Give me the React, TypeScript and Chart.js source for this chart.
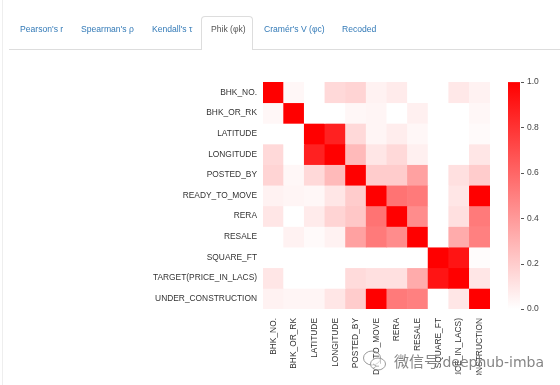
import React, { useEffect, useRef } from "react";
import { Chart, registerables } from "chart.js";
Chart.register(...registerables);

const variables = [
  "BHK_NO.",
  "BHK_OR_RK",
  "LATITUDE",
  "LONGITUDE",
  "POSTED_BY",
  "READY_TO_MOVE",
  "RERA",
  "RESALE",
  "SQUARE_FT",
  "TARGET(PRICE_IN_LACS)",
  "UNDER_CONSTRUCTION",
];

const rowBhkNo = [1, 0.03, 0, 0.15, 0.17, 0.05, 0.08, 0, 0, 0.09, 0.05];
const rowBhkOrRk = [0.03, 1, 0, 0, 0.03, 0.04, 0, 0.06, 0, 0, 0.03];
const rowLatitude = [0, 0, 1, 0.87, 0.15, 0.04, 0.07, 0.03, 0, 0, 0.02];
const rowLongitude = [0.15, 0, 0.87, 1, 0.27, 0.1, 0.15, 0.06, 0, 0, 0.1];
const rowPostedBy = [0.17, 0.03, 0.15, 0.27, 1, 0.2, 0.2, 0.37, 0, 0.12, 0.2];
const rowReadyToMove = [0.05, 0.04, 0.03, 0.1, 0.2, 1, 0.55, 0.52, 0, 0.1, 1];
const rowRera = [0.1, 0, 0.08, 0.17, 0.22, 0.55, 1, 0.45, 0, 0.12, 0.52];
const rowResale = [0, 0.05, 0.02, 0.05, 0.37, 0.52, 0.45, 1, 0, 0.33, 0.5];
const rowSquareFt = [0, 0, 0, 0, 0, 0, 0, 0, 1, 0.92, 0.01];
const rowTarget = [0.1, 0, 0, 0, 0.14, 0.12, 0.12, 0.33, 0.92, 1, 0.1];
const rowUnderConstruction = [0.05, 0.04, 0.04, 0.1, 0.2, 1, 0.52, 0.5, 0, 0.1, 1];

const matrix = [
  rowBhkNo,
  rowBhkOrRk,
  rowLatitude,
  rowLongitude,
  rowPostedBy,
  rowReadyToMove,
  rowRera,
  rowResale,
  rowSquareFt,
  rowTarget,
  rowUnderConstruction,
];

const colorbarTicks = [0, 0.2, 0.4, 0.6, 0.8, 1.0];

const tabNames = ["Pearson's r", "Spearman's ρ", "Kendall's τ", "Phik (φk)", "Cramér's V (φc)", "Recoded"];
const activeTab = "Phik (φk)";
const tabLefts = [20, 81, 152, 211, 264, 342];

const FONT = "'Liberation Sans', Arial, Helvetica, sans-serif";

function heat(v: number): string {
  const c = Math.round(255 * (1 - Math.max(0, Math.min(1, v))));
  return `rgb(255,${c},${c})`;
}

const colorbarPlugin = {
  id: "colorbarPlugin",
  afterDraw(chart: any) {
    const s = chart.scales.cb;
    const ctx = chart.ctx as CanvasRenderingContext2D;
    const top = s.getPixelForValue(1);
    const bottom = s.getPixelForValue(0);
    const x0 = s.left + 18;
    const w = 12;
    const g = ctx.createLinearGradient(0, bottom, 0, top);
    g.addColorStop(0, heat(0));
    g.addColorStop(1, heat(1));
    ctx.save();
    ctx.fillStyle = g;
    ctx.fillRect(x0, top, w, bottom - top);
    ctx.strokeStyle = "#555";
    ctx.lineWidth = 1;
    for (const t of colorbarTicks) {
      const y = Math.round(s.getPixelForValue(t)) + 0.5;
      ctx.beginPath();
      ctx.moveTo(x0 + w + 1, y);
      ctx.lineTo(x0 + w + 4, y);
      ctx.stroke();
    }
    ctx.restore();
  },
};

export default function App() {
  const ref = useRef<HTMLCanvasElement | null>(null);

  useEffect(() => {
    if (!ref.current) return;
    const datasets = matrix.map((row, i) => ({
      label: variables[i],
      data: row.map(() => 1),
      backgroundColor: row.map((v) => heat(v)),
      borderWidth: 0,
      barPercentage: 1,
      categoryPercentage: 1,
      xAxisID: "x",
      yAxisID: "y",
    }));
    const chart = new Chart(ref.current, {
      type: "bar",
      data: { labels: variables, datasets },
      plugins: [colorbarPlugin],
      options: {
        animation: false,
        responsive: false,
        maintainAspectRatio: false,
        layout: { padding: { top: 24, left: 0, right: 0, bottom: 0 } },
        plugins: { legend: { display: false }, tooltip: { enabled: false } },
        scales: {
          x: {
            type: "category",
            stacked: true,
            grid: { display: false, drawTicks: false },
            border: { display: false },
            ticks: {
              autoSkip: false,
              maxRotation: 90,
              minRotation: 90,
              padding: 9,
              color: "#333",
              font: { family: FONT, size: 8.4 },
            },
            afterFit: (s: any) => {
              s.height = 66;
            },
          },
          y: {
            type: "linear",
            stacked: true,
            min: 0,
            max: 11,
            reverse: true,
            grid: { display: false, drawTicks: false },
            border: { display: false },
            afterBuildTicks: (s: any) => {
              s.ticks = variables.map((_, i) => ({ value: i + 0.5 }));
            },
            ticks: {
              autoSkip: false,
              padding: 6,
              color: "#333",
              font: { family: FONT, size: 8.4 },
              callback: (v: any) => variables[Math.floor(Number(v))],
            },
            afterFit: (s: any) => {
              s.width = 263;
            },
          },
          cb: {
            type: "linear",
            display: true,
            position: "right",
            min: 0,
            max: 1,
            grid: { display: false, drawTicks: false },
            border: { display: false },
            afterBuildTicks: (s: any) => {
              s.ticks = colorbarTicks.map((v) => ({ value: v }));
            },
            ticks: {
              padding: 37,
              color: "#444",
              font: { family: FONT, size: 8.5 },
              callback: (v: any) => Number(v).toFixed(1),
            },
            afterFit: (s: any) => {
              s.width = 70;
            },
          },
        },
      } as any,
    });
    return () => chart.destroy();
  }, []);

  return (
    <div style={{ position: "fixed", left: 0, top: 0, width: 560, height: 385, background: "#fff", overflow: "hidden", fontFamily: FONT }}>
      <div style={{ position: "absolute", left: 2, top: 0, width: 1, height: 385, background: "#eee" }} />
      <canvas ref={ref} width={560} height={335} style={{ position: "absolute", left: 0, top: 40, width: 560, height: 335 }} />
      <div style={{ position: "absolute", left: 9, top: 49, width: 551, height: 1, background: "#ddd" }} />
      <div
        style={{
          position: "absolute",
          left: 201,
          top: 16,
          width: 52,
          height: 34,
          boxSizing: "border-box",
          background: "#fff",
          border: "1px solid #ddd",
          borderBottom: "none",
          borderRadius: "4px 4px 0 0",
        }}
      />
      {tabNames.map((t, i) => (
        <div
          key={t}
          style={{
            position: "absolute",
            left: tabLefts[i],
            top: 23,
            lineHeight: "12px",
            fontSize: 8.6,
            whiteSpace: "nowrap",
            color: t === activeTab ? "#555" : "#337ab7",
          }}
        >
          {t}
        </div>
      ))}
      <div style={{ position: "absolute", left: 362, top: 348, width: 200, height: 26, pointerEvents: "none", opacity: 0.85 }}>
        <svg width="26" height="24" style={{ position: "absolute", left: 0, top: 1 }}>
          <ellipse cx="10" cy="9" rx="8.5" ry="7" fill="none" stroke="#888" strokeWidth="1" />
          <ellipse cx="16" cy="15" rx="7.5" ry="6" fill="rgba(255,255,255,0.6)" stroke="#888" strokeWidth="1" />
        </svg>
        <div
          style={{
            position: "absolute",
            left: 32,
            top: 3,
            lineHeight: "20px",
            fontSize: 15,
            color: "#707070",
            whiteSpace: "nowrap",
            fontFamily: "'Noto Sans CJK SC', 'Liberation Sans', sans-serif",
          }}
        >
          微信号 <span style={{ fontFamily: "'DejaVu Sans', sans-serif", fontSize: 14 }}>deephub-imba</span>
        </div>
      </div>
    </div>
  );
}
